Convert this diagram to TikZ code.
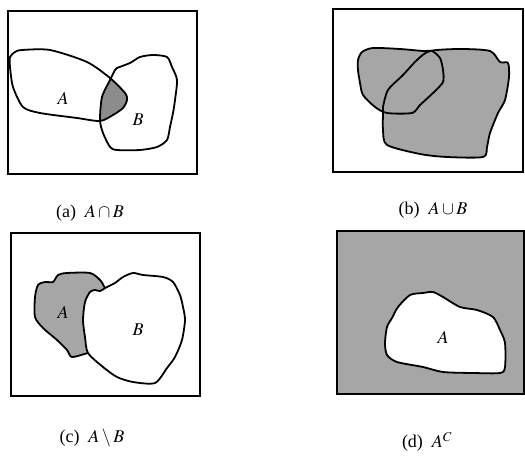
\documentclass[tikz,border=0pt]{standalone}
\usepackage{mathptmx}
\usepackage{fontspec}
\setmainfont{Liberation Serif}
\usetikzlibrary{positioning}

\tikzset{
  frame/.style={draw, line width=1.7pt},
  blob/.style={draw, line width=1.8pt, line join=round},
  shade/.style={fill=black!35},
  setlbl/.style={font=\fontsize{18}{18}\selectfont},
  caplbl/.style={font=\fontsize{18}{18}\selectfont}
}

% outlines of the sets, in pixel units
\newcommand{\regAa}{plot[smooth cycle, tension=0.45] coordinates {
  (10,57) (15,52) (22,50) (50,50) (87,62) (110,78) (125,93) (127,100)
  (123,108) (113,115) (100,121) (77,118) (40,113) (23,107) (13,87) (10,67)}}
\newcommand{\regBa}{plot[smooth cycle, tension=0.45] coordinates {
  (115,70) (110,80) (102,97) (100,120) (103,133) (110,147) (117,150) (140,150)
  (157,147) (167,140) (170,127) (173,113) (175,100) (177,80) (172,67) (167,57)
  (153,55) (140,57) (130,63) (117,68)}}
\newcommand{\regAb}{plot[smooth cycle, tension=0.45] coordinates {
  (358,60) (362,52) (373,48) (400,49) (423,51) (432,51) (440,58) (443,70)
  (443,82) (433,93) (420,105) (412,113) (387,113) (375,107) (363,95) (360,83) (358,70)}}
\newcommand{\regBb}{plot[smooth cycle, tension=0.45] coordinates {
  (383,107) (388,90) (403,75) (417,60) (430,51) (460,49) (490,51) (500,62)
  (508,63) (509,77) (505,100) (498,113) (490,133) (487,147) (483,157) (447,157)
  (420,154) (387,145) (383,130) (383,113)}}
\newcommand{\regAc}{plot[smooth cycle, tension=0.45] coordinates {
  (35,297) (38,285) (45,282) (53,282) (58,275) (67,273) (90,273) (100,280)
  (105,288) (112,300) (112,340) (95,352) (88,353) (72,357) (67,350) (57,340)
  (43,328) (35,317)}}
\newcommand{\regBc}{plot[smooth cycle, tension=0.45] coordinates {
  (85,302) (90,292) (95,290) (100,291) (107,287) (115,283) (123,277) (133,273)
  (143,275) (163,277) (173,282) (180,295) (183,307) (185,320) (182,340) (175,357)
  (167,368) (155,383) (133,382) (117,377) (103,367) (88,353) (85,337) (83,320)}}
\newcommand{\regAd}{plot[smooth cycle, tension=0.45] coordinates {
  (387,327) (392,318) (398,307) (410,295) (423,293) (433,292) (443,297) (460,307)
  (477,310) (493,317) (500,330) (505,343) (505,367) (500,373) (473,373) (443,372)
  (423,367) (397,362) (387,355) (385,343)}}

\begin{document}
\begin{tikzpicture}[x=1pt, y=-1pt]
  \useasboundingbox (0,0) rectangle (525,457);

  %% ── (a) intersection ─────────────────────────────
  \draw[frame] (8,11) rectangle (197,174);
  \begin{scope}
    \clip \regAa;
    \fill[fill=black!45] \regBa;
  \end{scope}
  \draw[blob] \regAa;
  \draw[blob] \regBa;
  \node[setlbl] (la) at (63,98) {$A$};
  \node[setlbl] (lb) at (138,120) {$B$};
  \node[caplbl] (capa) at (90,213) {(a)\ \ $A\cap B$};

  %% ── (b) union ────────────────────────────────────
  \draw[frame] (333,9) rectangle (523,172);
  \fill[shade] \regAb;
  \fill[shade] \regBb;
  \draw[blob] \regAb;
  \draw[blob] \regBb;
  \node[caplbl] (capb) at (433,210) {(b)\ \ $A\cup B$};

  %% ── (c) difference ───────────────────────────────
  \draw[frame] (11,233) rectangle (200,396);
  \fill[shade] \regAc;
  \draw[blob] \regAc;
  \filldraw[blob, fill=white] \regBc;
  \node[setlbl] (lc) at (63,312) {$A$};
  \node[setlbl] (ld) at (138,330) {$B$};
  \node[caplbl] (capc) at (92,438) {(c)\ \ $A\setminus B$};

  %% ── (d) complement ───────────────────────────────
  \fill[shade] (337,231) rectangle (524,394);
  \draw[frame] (337,231) rectangle (524,394);
  \filldraw[blob, fill=white] \regAd;
  \node[setlbl] (le) at (443,337) {$A$};
  \node[caplbl] (capd) at (427,442) {(d)\ \ $A^{C}$};

\end{tikzpicture}
\end{document}
